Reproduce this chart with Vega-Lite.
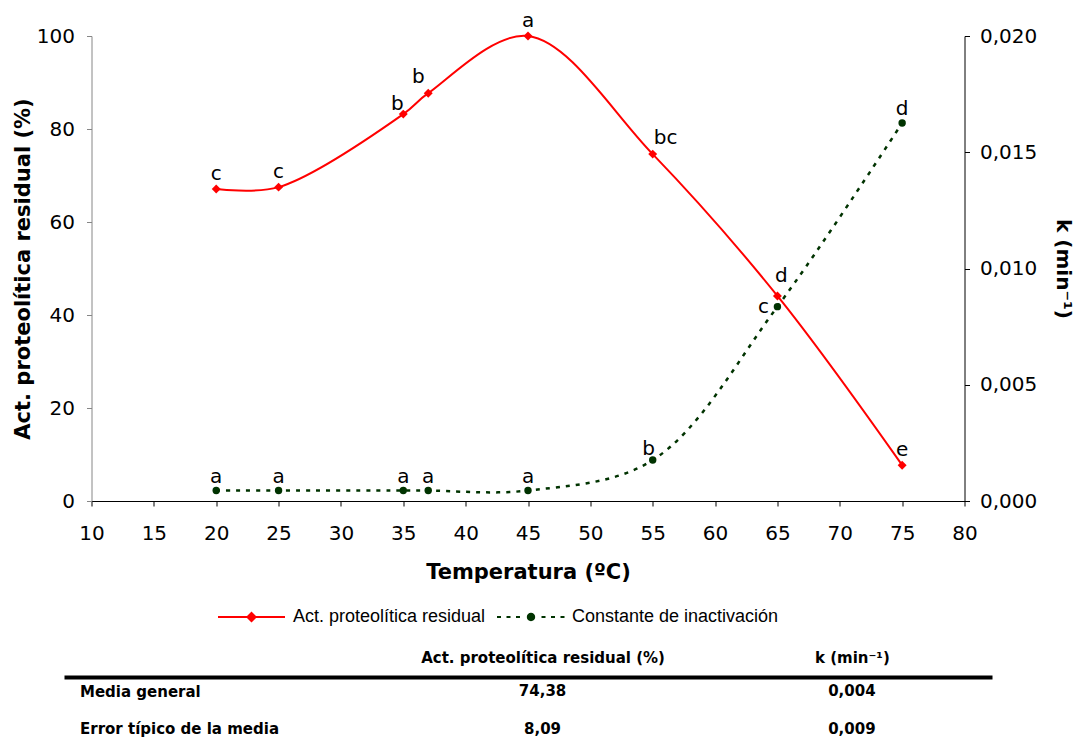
{
  "$schema": "https://vega.github.io/schema/vega-lite/v6.json",
  "background": "white",
  "padding": {"left": 12, "top": 11, "right": 0, "bottom": 0},
  "spacing": 176,
  "bounds": "flush",
  "center": true,
  "config": {"view": {"stroke": null}, "axis": {"grid": false}},
  "datasets": {
    "act": [
      {"T": 20, "act": 67.1, "letra": "c"},
      {"T": 25, "act": 67.5, "letra": "c"},
      {"T": 35, "act": 83.2, "letra": "b"},
      {"T": 37, "act": 87.7, "letra": "b"},
      {"T": 45, "act": 100.0, "letra": "a"},
      {"T": 55, "act": 74.6, "letra": "bc"},
      {"T": 65, "act": 44.1, "letra": "d"},
      {"T": 75, "act": 7.7, "letra": "e"}
    ],
    "k": [
      {"T": 20, "k": 0.00045, "letra": "a"},
      {"T": 25, "k": 0.00045, "letra": "a"},
      {"T": 35, "k": 0.00045, "letra": "a"},
      {"T": 37, "k": 0.00045, "letra": "a"},
      {"T": 45, "k": 0.00045, "letra": "a"},
      {"T": 55, "k": 0.00176, "letra": "b"},
      {"T": 65, "k": 0.00836, "letra": "c"},
      {"T": 75, "k": 0.01626, "letra": "d"}
    ],
    "series": [
      {"serie": "Act. proteolítica residual"},
      {"serie": "Constante de inactivación"}
    ],
    "tabla": [
      {"fila": "Media general", "col": "Act. proteolítica residual (%)", "valor": "74,38"},
      {"fila": "Media general", "col": "k (min⁻¹)", "valor": "0,004"},
      {"fila": "Error típico de la media", "col": "Act. proteolítica residual (%)", "valor": "8,09"},
      {"fila": "Error típico de la media", "col": "k (min⁻¹)", "valor": "0,009"}
    ]
  },
  "vconcat": [
    {
      "width": 873,
      "height": 465,
      "encoding": {
        "x": {
          "field": "T", "type": "quantitative",
          "scale": {"domain": [10, 80], "nice": false, "zero": false},
          "axis": {
            "values": [10, 15, 20, 25, 30, 35, 40, 45, 50, 55, 60, 65, 70, 75, 80],
            "title": "Temperatura (ºC)",
            "labelFont": "DejaVu Sans", "labelFontSize": 20, "labelColor": "#000",
            "titleFont": "DejaVu Sans", "titleFontSize": 21, "titleFontWeight": "bold", "titleColor": "#000",
            "domainColor": "#000", "tickColor": "#000", "tickSize": 5,
            "labelPadding": 17, "titlePadding": 18, "labelFlush": false, "labelOverlap": false
          }
        }
      },
      "layer": [
        {
          "data": {"name": "act"},
          "encoding": {
            "y": {
              "field": "act", "type": "quantitative",
              "scale": {"domain": [0, 100], "nice": false},
              "axis": {
                "values": [0, 20, 40, 60, 80, 100],
                "title": "Act. proteolítica residual (%)",
                "labelFont": "DejaVu Sans", "labelFontSize": 20, "labelColor": "#000",
                "titleFont": "DejaVu Sans", "titleFontSize": 21, "titleFontWeight": "bold", "titleColor": "#000",
                "domainColor": "#868686", "tickColor": "#868686", "tickSize": 5,
                "labelPadding": 12, "titlePadding": 3
              }
            }
          },
          "layer": [
            {"mark": {"type": "line", "interpolate": "catmull-rom", "color": "#ff0000", "strokeWidth": 2}},
            {"mark": {"type": "point", "shape": "diamond", "filled": true, "size": 80, "color": "#ff0000", "opacity": 1}},
            {
              "transform": [{"filter": "datum.T == 20 || datum.T == 25 || datum.T == 45 || datum.T == 75"}],
              "mark": {"type": "text", "font": "DejaVu Sans", "fontSize": 20, "baseline": "alphabetic", "dy": -9, "color": "#000"},
              "encoding": {"text": {"field": "letra"}}
            },
            {
              "transform": [{"filter": "datum.T == 35"}],
              "mark": {"type": "text", "font": "DejaVu Sans", "fontSize": 20, "baseline": "alphabetic", "dx": -6, "dy": -4, "color": "#000"},
              "encoding": {"text": {"field": "letra"}}
            },
            {
              "transform": [{"filter": "datum.T == 37"}],
              "mark": {"type": "text", "font": "DejaVu Sans", "fontSize": 20, "baseline": "alphabetic", "dx": -10, "dy": -10, "color": "#000"},
              "encoding": {"text": {"field": "letra"}}
            },
            {
              "transform": [{"filter": "datum.T == 55"}],
              "mark": {"type": "text", "font": "DejaVu Sans", "fontSize": 20, "baseline": "alphabetic", "dx": 13, "dy": -10, "color": "#000"},
              "encoding": {"text": {"field": "letra"}}
            },
            {
              "transform": [{"filter": "datum.T == 65"}],
              "mark": {"type": "text", "font": "DejaVu Sans", "fontSize": 20, "baseline": "alphabetic", "dx": 4, "dy": -14, "color": "#000"},
              "encoding": {"text": {"field": "letra"}}
            },
            {
              "data": {"name": "series"},
              "mark": {"type": "point", "filled": true, "opacity": 1, "size": 0},
              "encoding": {
                "color": {
                  "field": "serie", "type": "nominal",
                  "scale": {"domain": ["Act. proteolítica residual", "Constante de inactivación"], "range": ["#ff0000", "#003300"]},
                  "legend": {
                    "title": null, "orient": "none", "legendX": 154, "legendY": 571, "direction": "horizontal",
                    "symbolSize": 400, "labelOffset": 55, "columnPadding": 11, "padding": 0,
                    "labelFont": "Liberation Sans", "labelFontSize": 18, "labelColor": "#000", "labelLimit": 400,
                    "symbolStrokeWidth": 0
                  }
                },
                "shape": {
                  "field": "serie", "type": "nominal",
                  "scale": {
                    "domain": ["Act. proteolítica residual", "Constante de inactivación"],
                    "range": [
                      "M-1,-0.1H5.7V0.1H-1Z M2.35,-0.55L2.9,0L2.35,0.55L1.8,0Z",
                      "M-1,-0.1H-0.6V0.1H-1Z M-0.05,-0.1H0.35V0.1H-0.05Z M0.9,-0.1H1.3V0.1H0.9Z M1.98,0A0.42,0.42 0 1,1 2.82,0A0.42,0.42 0 1,1 1.98,0Z M3.45,-0.1H3.85V0.1H3.45Z M4.4,-0.1H4.8V0.1H4.4Z M5.35,-0.1H5.75V0.1H5.35Z"
                    ]
                  },
                  "legend": {
                    "title": null, "orient": "none", "legendX": 154, "legendY": 571, "direction": "horizontal",
                    "symbolSize": 400, "labelOffset": 55, "columnPadding": 11, "padding": 0,
                    "labelFont": "Liberation Sans", "labelFontSize": 18, "labelColor": "#000", "labelLimit": 400,
                    "symbolStrokeWidth": 0
                  }
                }
              }
            }
          ]
        },
        {
          "data": {"name": "k"},
          "encoding": {
            "y": {
              "field": "k", "type": "quantitative",
              "scale": {"domain": [0, 0.02], "nice": false},
              "axis": {
                "orient": "right",
                "values": [0, 0.005, 0.01, 0.015, 0.02],
                "labelExpr": "replace(format(datum.value, '.3f'), '.', ',')",
                "title": "k (min⁻¹)", "titleAngle": 90,
                "labelFont": "DejaVu Sans", "labelFontSize": 20, "labelColor": "#000",
                "titleFont": "DejaVu Sans", "titleFontSize": 20, "titleFontWeight": "bold", "titleColor": "#000",
                "domainColor": "#000", "tickColor": "#000", "tickSize": 5,
                "labelPadding": 10, "titlePadding": 16
              }
            }
          },
          "layer": [
            {"mark": {"type": "line", "interpolate": "catmull-rom", "color": "#003300", "strokeWidth": 2.5, "strokeDash": [4, 6]}},
            {"mark": {"type": "point", "shape": "circle", "filled": true, "size": 55, "color": "#003300", "opacity": 1}},
            {
              "transform": [{"filter": "datum.T != 55 && datum.T != 65"}],
              "mark": {"type": "text", "font": "DejaVu Sans", "fontSize": 20, "baseline": "alphabetic", "dy": -8, "color": "#000"},
              "encoding": {"text": {"field": "letra"}}
            },
            {
              "transform": [{"filter": "datum.T == 55"}],
              "mark": {"type": "text", "font": "DejaVu Sans", "fontSize": 20, "baseline": "alphabetic", "dx": -4, "dy": -5, "color": "#000"},
              "encoding": {"text": {"field": "letra"}}
            },
            {
              "transform": [{"filter": "datum.T == 65"}],
              "mark": {"type": "text", "font": "DejaVu Sans", "fontSize": 20, "baseline": "middle", "dx": -14, "dy": 0, "color": "#000"},
              "encoding": {"text": {"field": "letra"}}
            }
          ]
        }
      ],
      "resolve": {"scale": {"y": "independent"}}
    },
    {
      "width": 928,
      "height": 66,
      "data": {"name": "tabla"},
      "mark": {"type": "text", "font": "DejaVu Sans", "fontWeight": "bold", "fontSize": 15, "color": "#000"},
      "encoding": {
        "x": {
          "field": "col", "type": "nominal",
          "scale": {"type": "point", "domain": ["Act. proteolítica residual (%)", "k (min⁻¹)"], "padding": 1.1, "align": 0.7735},
          "axis": {
            "orient": "top", "title": null, "ticks": false, "tickSize": 0, "labelAngle": 0,
            "labelFont": "DejaVu Sans", "labelFontWeight": "bold", "labelFontSize": 15, "labelColor": "#000",
            "labelPadding": 12, "domainColor": "#000", "domainWidth": 4, "labelLimit": 400
          }
        },
        "y": {
          "field": "fila", "type": "nominal",
          "scale": {"type": "point", "domain": ["Media general", "Error típico de la media"], "padding": 0.38},
          "axis": {
            "title": null, "domain": false, "ticks": false, "tickSize": 0,
            "labelAlign": "left", "labelPadding": -15.5,
            "labelFont": "DejaVu Sans", "labelFontWeight": "bold", "labelFontSize": 15, "labelColor": "#000", "labelLimit": 400
          }
        },
        "text": {"field": "valor"}
      }
    }
  ]
}
